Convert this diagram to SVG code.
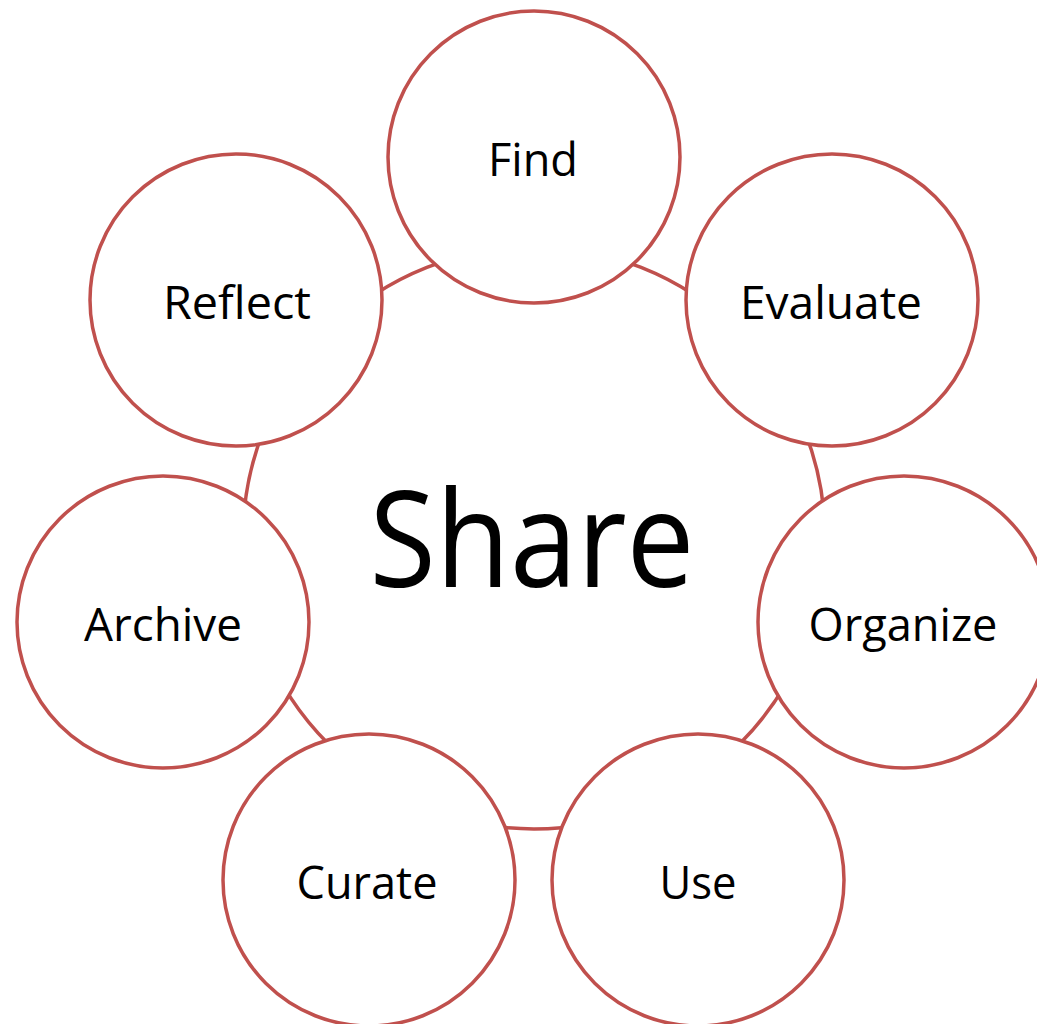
<svg xmlns="http://www.w3.org/2000/svg" width="1037" height="1024" viewBox="0 0 1037 1024">
<style>
.n{fill:#fff;stroke:#C0504D;stroke-width:3.5}
.ring{fill:none;stroke:#C0504D;stroke-width:3.5}
.t{font-family:"Open Sans","Noto Sans",sans-serif;font-size:46px;fill:#000;text-anchor:middle}
.c{font-family:"Open Sans","Noto Sans",sans-serif;font-size:134px;fill:#000;text-anchor:middle}
</style>
<rect width="1037" height="1024" fill="#fff"/>
<g id="connectors">
<circle class="ring" cx="534" cy="538" r="291"/>
</g>
<g id="center"><text class="c" x="532" y="587" textLength="325" lengthAdjust="spacingAndGlyphs">Share</text></g>
<g id="find"><circle class="n" cx="534" cy="157" r="146"/><text class="t" x="533" y="176" textLength="90" lengthAdjust="spacingAndGlyphs">Find</text></g>
<g id="evaluate"><circle class="n" cx="832" cy="300" r="146"/><text class="t" x="831" y="319" textLength="182" lengthAdjust="spacingAndGlyphs">Evaluate</text></g>
<g id="organize"><circle class="n" cx="904" cy="622" r="146"/><text class="t" x="903" y="641" textLength="189" lengthAdjust="spacingAndGlyphs">Organize</text></g>
<g id="use"><circle class="n" cx="698" cy="880" r="146"/><text class="t" x="698" y="899" textLength="77" lengthAdjust="spacingAndGlyphs">Use</text></g>
<g id="curate"><circle class="n" cx="369" cy="880" r="146"/><text class="t" x="367" y="899" textLength="141" lengthAdjust="spacingAndGlyphs">Curate</text></g>
<g id="archive"><circle class="n" cx="163" cy="622" r="146"/><text class="t" x="163" y="641" textLength="158" lengthAdjust="spacingAndGlyphs">Archive</text></g>
<g id="reflect"><circle class="n" cx="236" cy="300" r="146"/><text class="t" x="237" y="319" textLength="148" lengthAdjust="spacingAndGlyphs">Reflect</text></g>
</svg>
